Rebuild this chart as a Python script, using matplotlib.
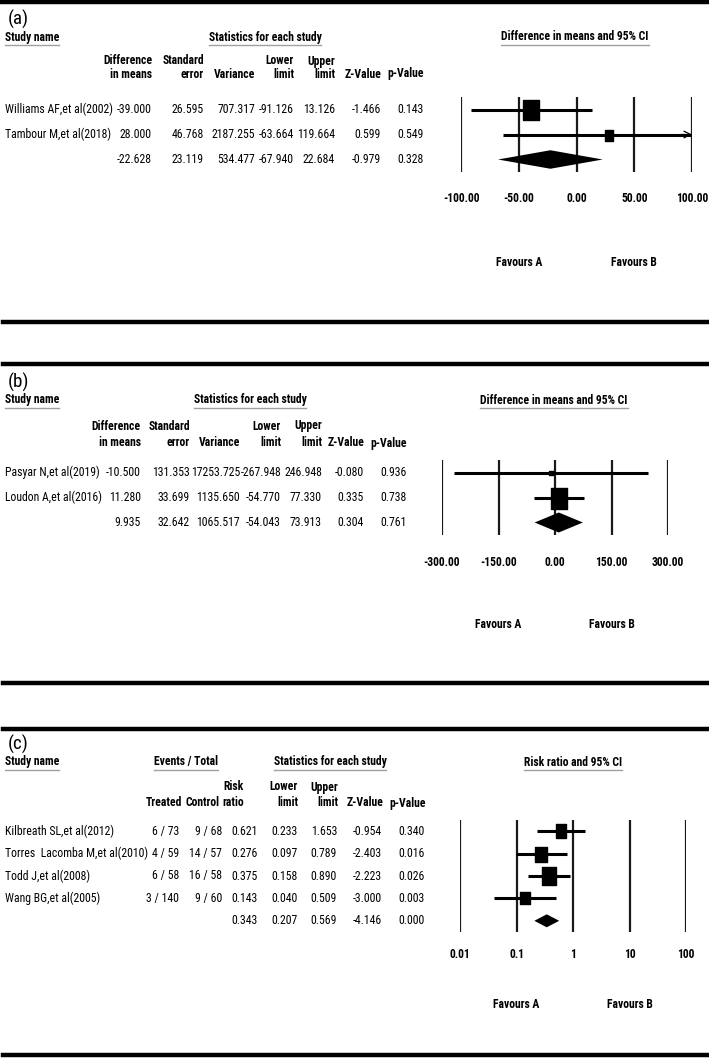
import os
import numpy as np
import matplotlib
matplotlib.use("Agg")
import matplotlib.pyplot as plt
from matplotlib import font_manager
from matplotlib.font_manager import FontProperties
from matplotlib.path import Path
from matplotlib.lines import Line2D
from matplotlib.textpath import TextPath
from matplotlib.transforms import blended_transform_factory

# ---------------- data ----------------
# (a) difference in means
a_names = ["Williams AF,et al(2002)", "Tambour M,et al(2018)", ""]
a_diff = [-39.000, 28.000, -22.628]
a_se = [26.595, 46.768, 23.119]
a_var = [707.317, 2187.255, 534.477]
a_lower = [-91.126, -63.664, -67.940]
a_upper = [13.126, 119.664, 22.684]
a_z = [-1.466, 0.599, -0.979]
a_p = [0.143, 0.549, 0.328]
a_ticks = [-100, -50, 0, 50, 100]

# (b) difference in means
b_names = ["Pasyar N,et al(2019)", "Loudon A,et al(2016)", ""]
b_diff = [-10.500, 11.280, 9.935]
b_se = [131.353, 33.699, 32.642]
b_var = [17253.725, 1135.650, 1065.517]
b_lower = [-267.948, -54.770, -54.043]
b_upper = [246.948, 77.330, 73.913]
b_z = [-0.080, 0.335, 0.304]
b_p = [0.936, 0.738, 0.761]
b_ticks = [-300, -150, 0, 150, 300]

# (c) risk ratio
c_names = ["Kilbreath SL,et al(2012)", "Torres  Lacomba M,et al(2010)",
           "Todd J,et al(2008)", "Wang BG,et al(2005)", ""]
c_treat_ev = [6, 4, 6, 3]
c_treat_n = [73, 59, 58, 140]
c_ctrl_ev = [9, 14, 16, 9]
c_ctrl_n = [68, 57, 58, 60]
c_rr = [0.621, 0.276, 0.375, 0.143, 0.343]
c_lower = [0.233, 0.097, 0.158, 0.040, 0.207]
c_upper = [1.653, 0.789, 0.890, 0.509, 0.569]
c_z = [-0.954, -2.403, -2.223, -3.000, -4.146]
c_p = [0.340, 0.016, 0.026, 0.003, 0.000]
c_ticks = [0.01, 0.1, 1, 10, 100]

diff_hdr = [("Difference", "in means"), ("Standard", "error"), ("", "Variance"),
            ("Lower", "limit"), ("Upper", "limit"), ("", "Z-Value"), ("", "p-Value")]
rr_hdr = [("", "Treated"), ("", "Control"), ("Risk", "ratio"),
          ("Lower", "limit"), ("Upper", "limit"), ("", "Z-Value"), ("", "p-Value")]

# ---------------- fonts ----------------
# the original uses a narrow Arial-like face; take a condensed one if there is one
font_files = font_manager.findSystemFonts() + [f.fname for f in font_manager.fontManager.ttflist]
by_name = {os.path.basename(f).lower(): f for f in font_files}
candidates = [
    ("LiberationSansNarrow-Regular.ttf", "LiberationSansNarrow-Bold.ttf"),
    ("RobotoCondensed-Regular.ttf", "RobotoCondensed-Bold.ttf"),
    ("NotoSans-Condensed.ttf", "NotoSans-CondensedBold.ttf"),
    ("LiberationSans-Regular.ttf", "LiberationSans-Bold.ttf"),
]
fp_reg = FontProperties(family="Liberation Sans")
fp_bold = FontProperties(family="Liberation Sans", weight="bold")
for reg, bold in candidates:
    if reg.lower() in by_name and bold.lower() in by_name:
        fp_reg = FontProperties(fname=by_name[reg.lower()])
        fp_bold = FontProperties(fname=by_name[bold.lower()])
        break


def size_for(fp, sample, target_px):
    w = TextPath((0, 0), sample, size=72, prop=fp).get_extents().width / 72
    return target_px / w * 72 / 100


fs = size_for(fp_reg, "Pasyar N,et al(2019)", 93)
fsb = size_for(fp_bold, "Statistics for each study", 113)


def F(bold=False, size=None):
    fp = (fp_bold if bold else fp_reg).copy()
    fp.set_size(size if size else (fsb if bold else fs))
    return fp


# ---------------- figure ----------------
W, H = 709, 1064
fig = plt.figure(figsize=(W / 100, H / 100), dpi=100)

box = Path([(-0.39, -0.5), (0.39, -0.5), (0.39, 0.5), (-0.39, 0.5), (-0.39, -0.5)],
           closed=True)
underlined = []


def txt(x, y, s, bold=False, size=None, **kw):
    return fig.text(x / W, 1 - y / H, s, fontproperties=F(bold, size), **kw)


def rule(y, x0=3):
    fig.add_artist(Line2D([x0 / W, 1], [1 - y / H, 1 - y / H], color="black", lw=3.2))


def forest(x0, x1, y0, y1, xlim, ticks, labels, est, lo, hi, box_px, dia_half,
           tick_y, fav_y, log=False):
    ax = fig.add_axes([x0 / W, 1 - y1 / H, (x1 - x0) / W, (y1 - y0) / H])
    n = len(est)
    if log:
        ax.set_xscale("log")
    ax.set_xlim(*xlim)
    ax.set_ylim(n - 0.5, -0.5)
    ax.vlines(ticks, -0.5, n - 0.5, color="#1a1a1a", lw=1.6, zorder=1)
    for i in range(n - 1):
        right = min(hi[i], xlim[1])
        ax.plot([lo[i], right], [i, i], color="black", lw=2.2,
                solid_capstyle="butt", zorder=2)
        if hi[i] > xlim[1]:
            ax.annotate("", xy=(xlim[1], i), xytext=(xlim[1] - 0.05 * (xlim[1] - xlim[0]), i),
                        arrowprops=dict(arrowstyle="->", lw=0.9, color="black",
                                        shrinkA=0, shrinkB=0, mutation_scale=12),
                        annotation_clip=False)
        ax.plot(est[i], i, marker=box, ms=box_px[i] * 0.72, color="black",
                lw=0, zorder=3)
    s = n - 1
    ax.fill([lo[s], est[s], hi[s], est[s]], [s, s - dia_half, s, s + dia_half],
            color="black", lw=0, zorder=3)
    ax.set_xticks([])
    ax.set_yticks([])
    ax.minorticks_off()
    for sp in ax.spines.values():
        sp.set_visible(False)
    ax.patch.set_alpha(0)
    tr = blended_transform_factory(ax.transData, fig.transFigure)
    for t, lab in zip(ticks, labels):
        ax.text(t, 1 - tick_y / H, lab, transform=tr, ha="center", va="center",
                fontproperties=F(True), clip_on=False)
    ax.text(ticks[1], 1 - fav_y / H, "Favours A", transform=tr, ha="center",
            va="center", fontproperties=F(True))
    ax.text(ticks[3], 1 - fav_y / H, "Favours B", transform=tr, ha="center",
            va="center", fontproperties=F(True))
    return ax


def table(ax, col_x, columns, study_names):
    tr = blended_transform_factory(fig.transFigure, ax.transData)
    for i, nm in enumerate(study_names):
        fig.text(5 / W, i, nm, transform=tr, ha="left", va="center", fontproperties=F())
    for x, vals in zip(col_x, columns):
        for i, v in enumerate(vals):
            fig.text(x / W, i, v, transform=tr, ha="right", va="center",
                     fontproperties=F())


def headers(col_x, hdr, y1, y2):
    for x, (h1, h2) in zip(col_x, hdr):
        if h1:
            txt(x, y1, h1, bold=True, ha="right", va="center")
        txt(x, y2, h2, bold=True, ha="right", va="center")


def title_row(y, label, items):
    txt(8, y - 18, label, size=fs * 1.6, ha="left", va="center")
    for x, s, ha in items:
        underlined.append(txt(x, y, s, bold=True, ha=ha, va="center"))


def f3(v):
    return [f"{x:.3f}" for x in v]


# ---------------- panel (a) ----------------
rule(2, x0=0)
title_row(37, "(a)", [(5, "Study name", "left"), (265, "Statistics for each study", "center"),
                      (575, "Difference in means and 95% CI", "center")])
a_x = [152, 204, 255, 294, 335, 381, 424]
headers(a_x, diff_hdr, 61, 74)
ax_a = forest(461, 692, 97, 172, (-100, 100), a_ticks, [f"{t:.2f}" for t in a_ticks],
              a_diff, a_lower, a_upper, [20, 11], 0.37, 199, 263)
table(ax_a, a_x, [f3(a_diff), f3(a_se), f3(a_var), f3(a_lower), f3(a_upper),
                  f3(a_z), f3(a_p)], a_names)
rule(322)

# ---------------- panel (b) ----------------
rule(364)
title_row(400, "(b)", [(5, "Study name", "left"), (250, "Statistics for each study", "center"),
                       (554, "Difference in means and 95% CI", "center")])
b_x = [141, 190, 240, 281, 322, 364, 407]
headers(b_x, diff_hdr, 426, 443)
ax_b = forest(442, 668, 460, 535, (-300, 300), b_ticks, [f"{t:.2f}" for t in b_ticks],
              b_diff, b_lower, b_upper, [5, 21], 0.4, 562, 624)
table(ax_b, b_x, [f3(b_diff), f3(b_se), f3(b_var), f3(b_lower), f3(b_upper),
                  f3(b_z), f3(b_p)], b_names)
rule(683)

# ---------------- panel (c) ----------------
rule(729)
title_row(762, "(c)", [(5, "Study name", "left"), (186, "Events / Total", "center"),
                       (330, "Statistics for each study", "center"),
                       (573, "Risk ratio and 95% CI", "center")])
c_hx = [182, 220, 244, 298, 338, 383, 426]
headers(c_hx, rr_hdr, 787, 803)
ax_c = forest(460, 686, 820, 932, (0.01, 100), c_ticks, [f"{t:g}" for t in c_ticks],
              c_rr, c_lower, c_upper, [14, 15, 18, 12.5], 0.29, 955, 1004, log=True)
treated = [f"{e} / {n}" for e, n in zip(c_treat_ev, c_treat_n)] + [""]
control = [f"{e} / {n}" for e, n in zip(c_ctrl_ev, c_ctrl_n)] + [""]
table(ax_c, [179, 222, 258, 298, 337, 382, 425],
      [treated, control, f3(c_rr), f3(c_lower), f3(c_upper), f3(c_z), f3(c_p)], c_names)
rule(1055)

# gray underline below the group headings
fig.canvas.draw()
rend = fig.canvas.get_renderer()
for t in underlined:
    bb = t.get_window_extent(rend)
    yy = (bb.y0 - 1) / fig.bbox.height
    fig.add_artist(Line2D([bb.x0 / fig.bbox.width, bb.x1 / fig.bbox.width], [yy, yy],
                          color="#a0a0a0", lw=1.0))

fig.savefig("out.png", dpi=100)
